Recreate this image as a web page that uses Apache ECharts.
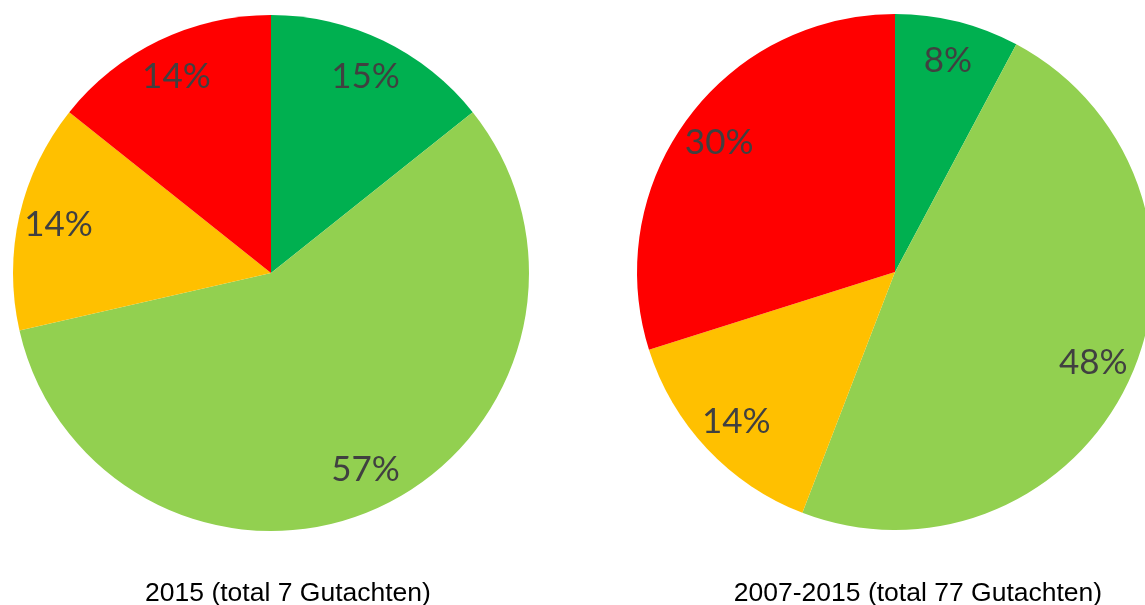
<!DOCTYPE html>
<html><head><meta charset="utf-8">
<script src="https://cdn.jsdelivr.net/npm/echarts@6/dist/echarts.min.js"></script>
<style>html,body{margin:0;padding:0;background:#fff}#c{width:1145px;height:605px}</style>
</head><body><div id="c"></div>
<script>
const categories = ['sehr gut', 'gut', 'mäßig', 'schlecht'];
const colors = ['#00b050', '#92d050', '#ffc000', '#ff0000'];
const values2015 = [1, 4, 1, 1];
const labels2015 = ['15%', '57%', '14%', '14%'];
const valuesAll = [6, 37, 11, 23];
const labelsAll = ['8%', '48%', '14%', '30%'];
const titles = ['2015 (total 7 Gutachten)', '2007-2015 (total 77 Gutachten)'];

function pieData(vals) {
  return vals.map((v, i) => ({ name: categories[i], value: v, itemStyle: { color: colors[i] } }));
}
function labelData(vals, labs) {
  return vals.map((v, i) => ({ name: labs[i], value: v }));
}
function pies(center, vals, labs) {
  return [
    { type: 'pie', center: center, radius: 258, startAngle: 90, clockwise: true,
      data: pieData(vals), label: { show: false }, labelLine: { show: false },
      itemStyle: { borderWidth: 0 }, silent: true, animation: false },
    { type: 'pie', center: center, radius: [172, 258], startAngle: 90, clockwise: true,
      data: labelData(vals, labs), silent: true, animation: false,
      itemStyle: { color: 'rgba(0,0,0,0)', borderWidth: 0 },
      label: { show: true, position: 'inside', formatter: '{b}', color: '#404040',
               fontFamily: 'Lato', fontSize: 35 },
      labelLine: { show: false } }
  ];
}
const chart = echarts.init(document.getElementById('c'));
const titleStyle = { fontFamily: 'Liberation Sans', fontSize: 26.5, fontWeight: 'normal', color: '#000' };
chart.setOption({
  backgroundColor: '#fff',
  title: [
    { text: titles[0], left: 288, top: 580, textAlign: 'center', padding: 0, textStyle: titleStyle },
    { text: titles[1], left: 918, top: 580, textAlign: 'center', padding: 0, textStyle: titleStyle }
  ],
  series: [].concat(pies([271, 273], values2015, labels2015), pies([895, 272], valuesAll, labelsAll))
});
</script></body></html>
